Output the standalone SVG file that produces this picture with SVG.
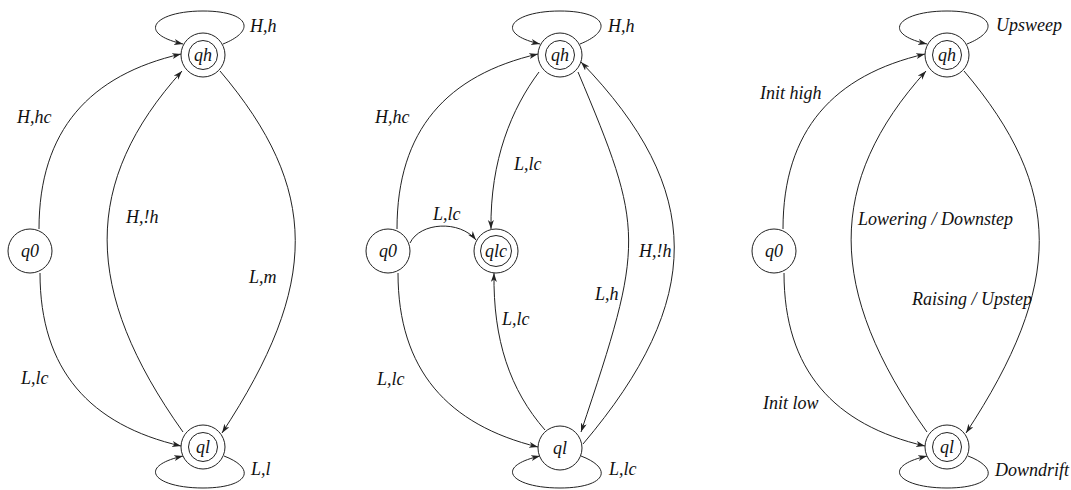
<svg xmlns="http://www.w3.org/2000/svg" width="1071" height="490" viewBox="0 0 1071 490">
<style>
.n{fill:#fff;stroke:#222;stroke-width:1}
.e{fill:none;stroke:#222;stroke-width:1}
text{font-family:"Liberation Serif","Times New Roman",serif;font-style:italic;font-size:18px;fill:#111}
.c{text-anchor:middle}
</style>
<defs>
<marker id="ah" markerUnits="userSpaceOnUse" markerWidth="11" markerHeight="8" refX="9" refY="3" orient="auto">
<path d="M0,0 L9,3 L0,6 L2.5,3 Z" fill="#222"/>
</marker>
</defs>
<rect width="1071" height="490" fill="#fff"/>

<g id="connectors">
<!-- diagram 1 -->
<path class="e" marker-end="url(#ah)" d="M223,44 C258,30 248,11 203,11 C155,11 135,33 183,44"/>
<path class="e" marker-end="url(#ah)" d="M39,229 C39,130 90,75 181,54"/>
<path class="e" marker-end="url(#ah)" d="M183,432 C82,290 82,182 182,71"/>
<path class="e" marker-end="url(#ah)" d="M220,71 C320,189 320,284 222,433"/>
<path class="e" marker-end="url(#ah)" d="M40,273 C40,370 90,425 181,446"/>
<path class="e" marker-end="url(#ah)" d="M224,456 C258,469 248,488 203,488 C155,488 135,467 183,456"/>
<!-- diagram 2 -->
<path class="e" marker-end="url(#ah)" d="M580,44 C615,30 605,11 560,11 C512,11 492,33 540,44"/>
<path class="e" marker-end="url(#ah)" d="M397,229 C397,130 447,75 538,54"/>
<path class="e" marker-end="url(#ah)" d="M539,72 C512,108 490,160 491,229"/>
<path class="e" marker-end="url(#ah)" d="M410,243 C420,222 460,220 476,240"/>
<path class="e" marker-end="url(#ah)" d="M545,430 C510,390 493,340 494,273"/>
<path class="e" marker-end="url(#ah)" d="M398,273 C398,370 448,425 538,447"/>
<path class="e" marker-end="url(#ah)" d="M578,72 C645,231 645,241 581,432"/>
<path class="e" marker-end="url(#ah)" d="M583,444 C705,300 705,190 581,62"/>
<path class="e" marker-end="url(#ah)" d="M581,456 C615,469 605,488 560,488 C512,488 492,467 540,456"/>
<!-- diagram 3 -->
<path class="e" marker-end="url(#ah)" d="M967,44 C1002,30 992,11 947,11 C899,11 879,33 927,44"/>
<path class="e" marker-end="url(#ah)" d="M783,229 C783,130 834,75 925,54"/>
<path class="e" marker-end="url(#ah)" d="M927,432 C826,290 826,182 926,71"/>
<path class="e" marker-end="url(#ah)" d="M964,71 C1064,189 1064,284 966,433"/>
<path class="e" marker-end="url(#ah)" d="M784,273 C784,370 834,425 925,446"/>
<path class="e" marker-end="url(#ah)" d="M968,456 C1002,469 992,488 947,488 C899,488 879,467 927,456"/>
</g>

<g id="edge-labels">
<text x="250" y="32">H,h</text>
<text x="17" y="123">H,hc</text>
<text x="126" y="223">H,!h</text>
<text x="249" y="283">L,m</text>
<text x="21" y="384">L,lc</text>
<text x="251" y="475">L,l</text>

<text x="608" y="32">H,h</text>
<text x="375" y="123">H,hc</text>
<text x="514" y="170">L,lc</text>
<text x="433" y="220">L,lc</text>
<text x="639" y="257">H,!h</text>
<text x="595" y="300">L,h</text>
<text x="502" y="325">L,lc</text>
<text x="377" y="385">L,lc</text>
<text x="609" y="475">L,lc</text>

<text x="996" y="31">Upsweep</text>
<text x="760" y="99">Init high</text>
<text x="858" y="225">Lowering / Downstep</text>
<text x="912" y="305">Raising / Upstep</text>
<text x="763" y="409">Init low</text>
<text x="995" y="476">Downdrift</text>
</g>

<g id="d1-q0"><circle class="n" cx="30" cy="251" r="22"/><text class="c" x="30" y="257">q0</text></g>
<g id="d1-qh"><circle class="n" cx="203" cy="55" r="22"/><circle class="n" cx="203" cy="55" r="14.5"/><text class="c" x="203" y="61">qh</text></g>
<g id="d1-ql"><circle class="n" cx="203" cy="447" r="22"/><circle class="n" cx="203" cy="447" r="14.5"/><text class="c" x="203" y="453">ql</text></g>

<g id="d2-q0"><circle class="n" cx="388" cy="251" r="22"/><text class="c" x="388" y="257">q0</text></g>
<g id="d2-qh"><circle class="n" cx="560" cy="55" r="22"/><circle class="n" cx="560" cy="55" r="14.5"/><text class="c" x="560" y="61">qh</text></g>
<g id="d2-qlc"><circle class="n" cx="496" cy="251" r="22"/><circle class="n" cx="496" cy="251" r="15.5"/><text class="c" x="496" y="257">qlc</text></g>
<g id="d2-ql"><circle class="n" cx="560" cy="448" r="22"/><text class="c" x="560" y="454">ql</text></g>

<g id="d3-q0"><circle class="n" cx="774" cy="251" r="22"/><text class="c" x="774" y="257">q0</text></g>
<g id="d3-qh"><circle class="n" cx="947" cy="55" r="22"/><circle class="n" cx="947" cy="55" r="14.5"/><text class="c" x="947" y="61">qh</text></g>
<g id="d3-ql"><circle class="n" cx="947" cy="447" r="22"/><circle class="n" cx="947" cy="447" r="14.5"/><text class="c" x="947" y="453">ql</text></g>
</svg>
